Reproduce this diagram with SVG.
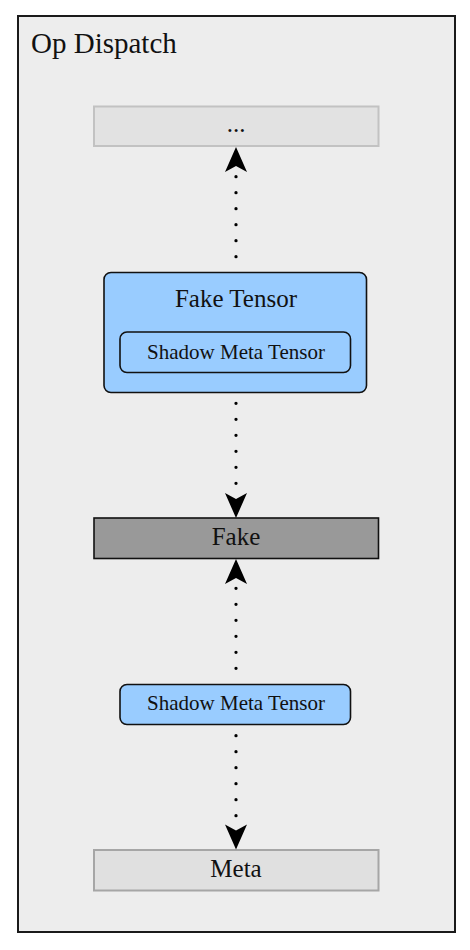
<svg xmlns="http://www.w3.org/2000/svg" width="470" height="950" viewBox="0 0 470 950">
<style>
text{font-family:"Liberation Serif","DejaVu Serif",serif;fill:#111;text-anchor:middle}
.big{font-size:25px}
.small{font-size:21px}
.title{font-size:29px;text-anchor:start}
.blue{fill:#99ccff;stroke:#111;stroke-width:1.6}
.dots{fill:none;stroke:#000;stroke-width:3.3;stroke-linecap:round;stroke-dasharray:0 16}
</style>
<defs>
<path id="ah" d="M0,0 L-11,25 L0,19 L11,25 Z" fill="#000"/>
</defs>
<rect width="470" height="950" fill="#fff"/>
<g id="op-dispatch">
<rect x="18" y="16" width="437" height="916" fill="#ededed" stroke="#1a1a1a" stroke-width="2"/>
<text class="title" x="31" y="53">Op Dispatch</text>
</g>
<g id="node-ellipsis">
<rect x="94" y="106.5" width="284.5" height="39.5" fill="#e2e2e2" stroke="#c2c2c2" stroke-width="2"/>
<text class="big" x="236" y="132">...</text>
</g>
<g id="node-fake-tensor">
<rect class="blue" x="104" y="272.5" width="262.5" height="120" rx="7"/>
<text class="big" x="236" y="306.5">Fake Tensor</text>
<g id="node-fake-tensor-shadow">
<rect class="blue" x="120" y="332" width="230.5" height="40.5" rx="7"/>
<text class="small" x="236" y="358.5">Shadow Meta Tensor</text>
</g>
</g>
<g id="node-fake">
<rect x="94" y="518" width="284.5" height="40.5" fill="#999999" stroke="#111" stroke-width="1.6"/>
<text class="big" x="236" y="545">Fake</text>
</g>
<g id="node-shadow-meta">
<rect class="blue" x="120" y="684.5" width="230.5" height="40" rx="7"/>
<text class="small" x="236" y="710">Shadow Meta Tensor</text>
</g>
<g id="node-meta">
<rect x="94" y="850" width="284.5" height="40.5" fill="#e0e0e0" stroke="#a6a6a6" stroke-width="2"/>
<text class="big" x="236" y="877">Meta</text>
</g>
<g id="connectors">
<path class="dots" d="M236,256.7 L236,170"/>
<use href="#ah" transform="translate(236,147)"/>
<path class="dots" d="M236,403.3 L236,490"/>
<use href="#ah" transform="translate(236,518) rotate(180)"/>
<path class="dots" d="M236,668.3 L236,585"/>
<use href="#ah" transform="translate(236,559) "/>
<path class="dots" d="M236,735.7 L236,822"/>
<use href="#ah" transform="translate(236,849.5) rotate(180)"/>
</g>
</svg>
